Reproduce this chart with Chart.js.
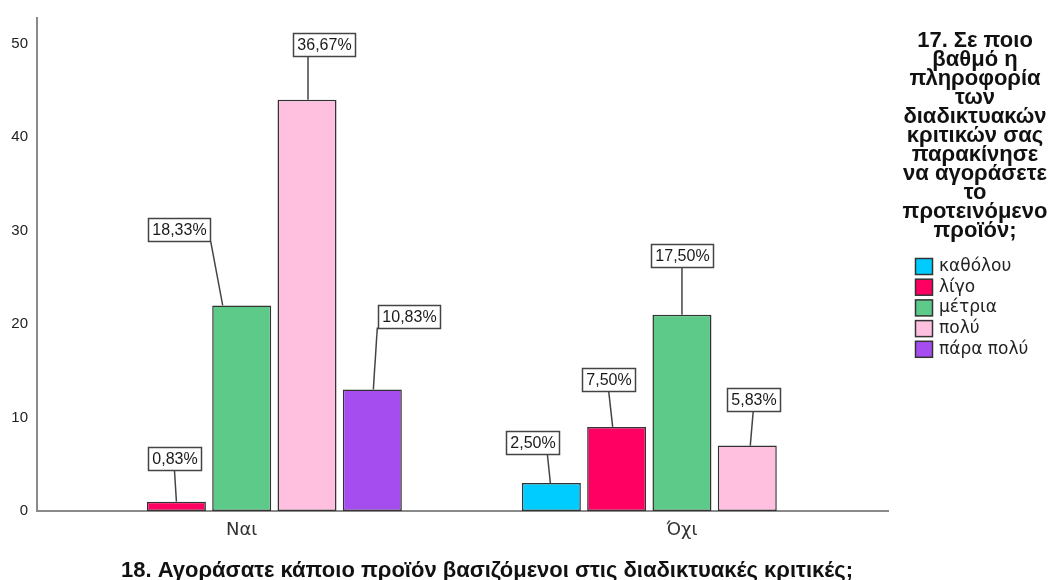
<!DOCTYPE html>
<html>
<head>
<meta charset="utf-8">
<script src="https://cdn.jsdelivr.net/npm/chart.js@4/dist/chart.umd.min.js"></script>
<style>
  html, body { margin: 0; padding: 0; background: #ffffff; }
  #wrap { width: 1057px; height: 580px; }
</style>
</head>
<body>
<div id="wrap"><canvas id="c" width="1057" height="580"></canvas></div>
<script>
// Answers to Q18 (categories on the x axis)
const categories = ['Ναι', 'Όχι'];

// Answers to Q17 (one series each) — respondent counts per category
const seriesNames = ['καθόλου', 'λίγο', 'μέτρια', 'πολύ', 'πάρα πολύ'];
const countNotAtAll = [0, 3];
const countLittle   = [1, 9];
const countModerate = [22, 21];
const countMuch     = [44, 7];
const countVeryMuch = [13, 0];

const yTicks = [0, 10, 20, 30, 40, 50];

const legendTitleLines = [
  '17. Σε ποιο', 'βαθμό η', 'πληροφορία', 'των', 'διαδικτυακών',
  'κριτικών σας', 'παρακίνησε', 'να αγοράσετε', 'το', 'προτεινόμενο', 'προϊόν;'
];
const xTitle = '18. Αγοράσατε κάποιο προϊόν βασιζόμενοι στις διαδικτυακές κριτικές;';

// Styling
const FONT = '"Liberation Sans", Arial, sans-serif';
const WIDE_FONT = '"DejaVu Sans", Verdana, sans-serif';
const seriesColors = ['#00CCFF', '#FF0062', '#5ECA8A', '#FFC0E0', '#A64DF0'];

// Callout placement per series/category: [box dx, gap above bar, line start dx, line end dx]
const calloutOffsets = [
  [null,               [-19, 29, 15, -1]],
  [[-2, 32, 0, 0],     [-8, 36, 0, -4]],
  [[-63, 64, 32, -19], [0, 48, 0, 0]],
  [[17, 44, -16, 1],   [6, 35, 0, 3]],
  [[37, 62, -32, 1],   null]
];

const seriesCounts = [countNotAtAll, countLittle, countModerate, countMuch, countVeryMuch];
const totalCount = seriesCounts.flat().reduce((a, b) => a + b, 0);

const datasets = seriesNames.map((name, s) => ({
  label: name,
  data: categories.map((c, i) => ({ x: i, y: seriesCounts[s][i] === 0 ? null : seriesCounts[s][i] })),
  backgroundColor: seriesColors[s],
  borderColor: '#333333',
  borderWidth: 1.5,
  borderSkipped: false,
  categoryPercentage: 0.7417,
  barPercentage: 0.9035
}));

function fmtPct(v) {
  return (v / totalCount * 100).toFixed(2).replace('.', ',') + '%';
}

// Boxed percentage labels with leader lines
const calloutPlugin = {
  id: 'callouts',
  afterDatasetsDraw(chart) {
    const ctx = chart.ctx;
    ctx.save();
    ctx.font = '16px ' + FONT;
    ctx.textAlign = 'center';
    ctx.textBaseline = 'middle';
    chart.data.datasets.forEach((ds, s) => {
      const meta = chart.getDatasetMeta(s);
      meta.data.forEach((bar, i) => {
        const v = seriesCounts[s][i];
        const off = calloutOffsets[s][i];
        if (!v || !off) return;
        const text = fmtPct(v);
        const w = Math.round(ctx.measureText(text).width + 8);
        const h = 23;
        const cx = bar.x + off[0];
        const bottom = bar.y - off[1];
        const left = Math.round(cx - w / 2) + 0.5;
        const top = Math.round(bottom - h) + 0.5;
        // leader line
        ctx.strokeStyle = '#444444';
        ctx.lineWidth = 1.5;
        ctx.beginPath();
        ctx.moveTo(cx + off[2], bottom);
        ctx.lineTo(bar.x + off[3], bar.y);
        ctx.stroke();
        // box
        ctx.fillStyle = '#ffffff';
        ctx.fillRect(left, top, w, h);
        ctx.strokeStyle = '#444444';
        ctx.lineWidth = 1.5;
        ctx.strokeRect(left, top, w, h);
        ctx.fillStyle = '#1a1a1a';
        ctx.fillText(text, left + w / 2, top + h / 2 + 1);
      });
    });
    ctx.restore();
  }
};

// Legend with wrapped bold title on the right, plus the x axis title
const sideLegendPlugin = {
  id: 'sideLegend',
  afterDraw(chart) {
    const ctx = chart.ctx;
    ctx.save();
    // legend title
    ctx.fillStyle = '#111111';
    ctx.font = 'bold 22px ' + FONT;
    ctx.textAlign = 'center';
    ctx.textBaseline = 'alphabetic';
    legendTitleLines.forEach((line, k) => {
      ctx.fillText(line, 975, 46.5 + k * 19);
    });
    // legend items
    ctx.font = '17px ' + WIDE_FONT;
    ctx.textAlign = 'left';
    ctx.textBaseline = 'middle';
    seriesNames.forEach((name, k) => {
      const cy = 266.5 + k * 20.7;
      ctx.fillStyle = seriesColors[k];
      ctx.fillRect(915.5, cy - 8, 17, 16);
      ctx.strokeStyle = '#333333';
      ctx.lineWidth = 1.5;
      ctx.strokeRect(915.5, cy - 8, 17, 16);
      ctx.fillStyle = '#222222';
      ctx.fillText(name, 939, cy);
    });
    // x axis title
    ctx.font = 'bold 22px ' + FONT;
    ctx.textAlign = 'center';
    ctx.textBaseline = 'alphabetic';
    ctx.fillStyle = '#111111';
    ctx.fillText(xTitle, 487, 576.5);
    ctx.restore();
  }
};

new Chart(document.getElementById('c'), {
  type: 'bar',
  data: { datasets },
  options: {
    responsive: false,
    animation: false,
    devicePixelRatio: 1,
    layout: { padding: { top: 14, right: 169, bottom: 0, left: 0 } },
    plugins: {
      legend: { display: false },
      tooltip: { enabled: false }
    },
    scales: {
      x: {
        type: 'linear',
        offset: false,
        min: -0.465,
        max: 1.468,
        afterBuildTicks: (s) => { s.ticks = categories.map((c, i) => ({ value: i })); },
        afterFit: (s) => { s.height = 69; },
        grid: { display: false, drawTicks: false, offset: false },
        border: { display: true, color: '#8a8a8a', width: 2 },
        ticks: {
          callback: (v) => categories[v] !== undefined ? categories[v] : '',
          font: { family: WIDE_FONT, size: 18 },
          color: '#333333',
          padding: 9,
          autoSkip: false,
          maxRotation: 0
        }
      },
      y: {
        min: 0,
        max: 52.76,
        afterBuildTicks: (s) => { s.ticks = yTicks.map(v => ({ value: v })); },
        afterFit: (s) => { s.width = 37; },
        grid: { display: false, drawTicks: false },
        border: { display: true, color: '#8a8a8a', width: 2 },
        ticks: {
          font: { family: FONT, size: 15 },
          color: '#222222',
          padding: 9
        }
      }
    }
  },
  plugins: [calloutPlugin, sideLegendPlugin]
});
</script>
</body>
</html>
